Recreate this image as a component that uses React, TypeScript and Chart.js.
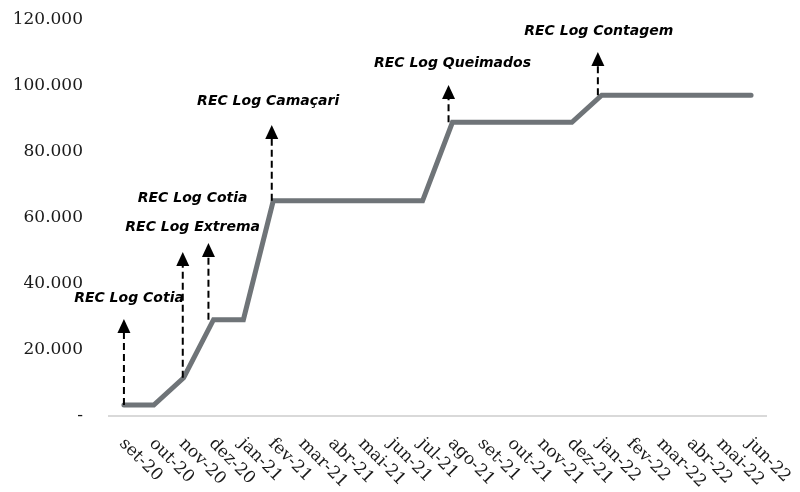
import React, { useEffect, useRef } from "react";
import { Chart, registerables } from "chart.js";

Chart.register(...registerables);

const categories = [
  "set-20", "out-20", "nov-20", "dez-20", "jan-21", "fev-21", "mar-21", "abr-21",
  "mai-21", "jun-21", "jul-21", "ago-21", "set-21", "out-21", "nov-21", "dez-21",
  "jan-22", "fev-22", "mar-22", "abr-22", "mai-22", "jun-22",
];

const capacity = [
  3300, 3300, 11600, 29200, 29200, 65200, 65200, 65200,
  65200, 65200, 65200, 89000, 89000, 89000, 89000, 89000,
  97200, 97200, 97200, 97200, 97200, 97200,
];

const yTickValues = [0, 20000, 40000, 60000, 80000, 100000, 120000];

// annotations (arrows): category where the arrow sits, arrow tip value, label text, label value, label centre (category index)
const annotationCategory = ["set-20", "nov-20", "dez-20", "fev-21", "ago-21", "jan-22"];
const annotationArrowIndex = [0, 1.97, 2.83, 4.95, 10.87, 15.87];
const annotationArrowTop = [29400, 49700, 52400, 88200, 100300, 110300];
const annotationLabels = [
  "REC Log Cotia", "REC Log Cotia", "REC Log Extrema",
  "REC Log Camaçari", "REC Log Queimados", "REC Log Contagem",
];
const annotationLabelValue = [35500, 66000, 57300, 95200, 107000, 116700];
const annotationLabelIndex = [0.17, 2.3, 2.3, 4.83, 11, 15.9];

const formatTick = (v: number) => (v === 0 ? "-" : `${Math.round(v / 1000)}.000`);

const drawPlugin = {
  id: "recDecorations",
  afterDraw(chart: any) {
    const { ctx, scales } = chart;
    const x = scales.x;
    const y = scales.y;
    ctx.save();

    // x labels rotated clockwise
    ctx.font = "17px 'DejaVu Serif'";
    ctx.fillStyle = "#1a1a1a";
    ctx.textAlign = "left";
    ctx.textBaseline = "middle";
    categories.forEach((c, i) => {
      const px = x.getPixelForValue(i);
      ctx.save();
      ctx.translate(px - 2, y.bottom + 25);
      ctx.rotate(Math.PI / 4);
      ctx.fillText(c, 0, 0);
      ctx.restore();
    });

    // annotations
    annotationCategory.forEach((cat, k) => {
      const ci = categories.indexOf(cat);
      const ax = x.getPixelForValue(annotationArrowIndex[k]);
      const base = y.getPixelForValue(capacity[ci]);
      const tip = y.getPixelForValue(annotationArrowTop[k]);
      const headH = 14;
      const headW = 13;
      ctx.strokeStyle = "#000";
      ctx.lineWidth = 2;
      ctx.setLineDash([7, 4]);
      ctx.beginPath();
      ctx.moveTo(ax, base);
      ctx.lineTo(ax, tip + headH);
      ctx.stroke();
      ctx.setLineDash([]);
      ctx.fillStyle = "#000";
      ctx.beginPath();
      ctx.moveTo(ax, tip);
      ctx.lineTo(ax - headW / 2, tip + headH);
      ctx.lineTo(ax + headW / 2, tip + headH);
      ctx.closePath();
      ctx.fill();

      ctx.font = "italic bold 14px 'DejaVu Sans'";
      ctx.textAlign = "center";
      ctx.textBaseline = "middle";
      ctx.fillText(
        annotationLabels[k],
        x.getPixelForValue(annotationLabelIndex[k]),
        y.getPixelForValue(annotationLabelValue[k])
      );
    });
    ctx.restore();
  },
};

export default function App() {
  const ref = useRef<HTMLCanvasElement>(null);
  useEffect(() => {
    if (!ref.current) return;
    const chart = new Chart(ref.current, {
      type: "line",
      data: {
        labels: categories,
        datasets: [
          {
            data: capacity,
            borderColor: "#6f7478",
            borderWidth: 5,
            pointRadius: 0,
            tension: 0,
            borderCapStyle: "round",
            borderJoinStyle: "miter",
            fill: false,
          },
        ],
      },
      options: {
        animation: false,
        responsive: false,
        devicePixelRatio: 1,
        layout: { padding: { left: 0, right: 34, top: 20, bottom: 76 } },
        plugins: { legend: { display: false }, tooltip: { enabled: false } },
        scales: {
          x: {
            offset: true,
            grid: { display: false, drawTicks: false },
            border: { display: true, color: "#d9d9d9", width: 2 },
            ticks: { display: false },
          },
          y: {
            min: 0,
            max: 120000,
            afterFit: (scale: any) => {
              scale.width = 109;
              scale.paddingTop = 0;
              scale.paddingBottom = 0;
            },
            afterBuildTicks: (scale: any) => {
              scale.ticks = yTickValues.map((v) => ({ value: v }));
            },
            grid: { display: false, drawTicks: false },
            border: { display: false },
            ticks: {
              padding: 26,
              color: "#1a1a1a",
              font: { family: "'DejaVu Serif'", size: 17 },
              callback: (v: any) => formatTick(Number(v)),
            },
          },
        },
      },
      plugins: [drawPlugin],
    });
    return () => chart.destroy();
  }, []);
  return (
    <div style={{ position: "fixed", left: 0, top: 0, width: 800, height: 492, background: "#fff" }}>
      <canvas ref={ref} width={800} height={492} />
    </div>
  );
}
